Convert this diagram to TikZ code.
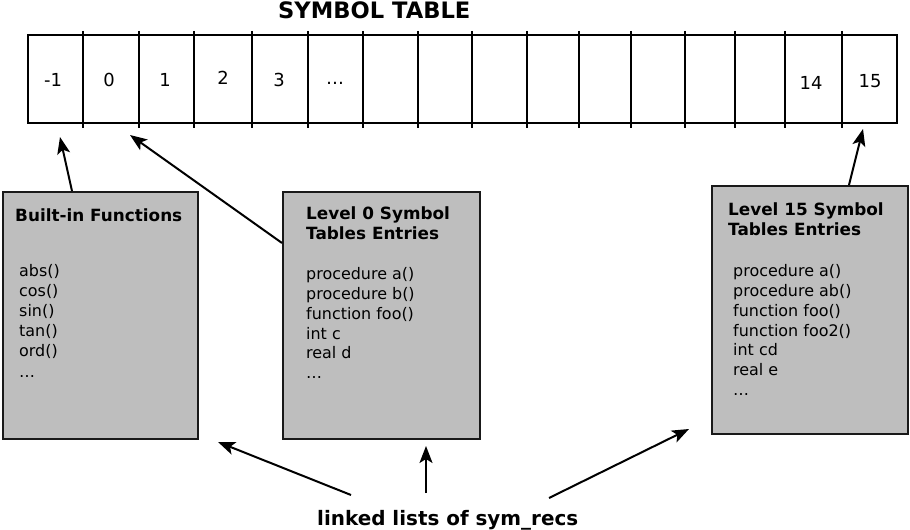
\documentclass[tikz,border=0pt]{standalone}
\usepackage{fontspec}
\setmainfont{DejaVu Sans}
\usetikzlibrary{arrows.meta,calc}
\definecolor{boxgray}{RGB}{190,190,190}
\begin{document}
\begin{tikzpicture}[x=1bp,y=-1bp,
  box/.style={draw=black!90, line width=2bp, fill=boxgray, inner sep=0pt, anchor=north west},
  body/.style={anchor=base west, inner sep=0pt, font=\fontsize{16}{20}\selectfont},
  head/.style={anchor=base west, inner sep=0pt, font=\bfseries\fontsize{16.9}{20}\selectfont},
  cell/.style={anchor=base, inner sep=0pt, font=\fontsize{18}{20}\selectfont},
  title/.style={anchor=base west, inner sep=0pt, font=\bfseries\fontsize{22.7}{26}\selectfont},
  arr/.style={-{Stealth[length=17bp,width=13bp,inset=4bp]}, line width=2bp},
  tbl/.style={line width=2bp}]
\useasboundingbox (0,0) rectangle (910,530);

% title
\node[title] (ttl) at (278,19) {SYMBOL TABLE};

% symbol table
\draw[tbl] (28,35) rectangle (897,123);
\foreach \xx in {83,139,194,252,308,363,418,472,527,579,631,685,735,785,842}
  \draw[tbl] (\xx,31) -- (\xx,128);
\node[cell] (cm1) at (53,87) {-1};
\node[cell] (c0)  at (109,87) {0};
\node[cell] (c1)  at (165,87) {1};
\node[cell] (c2)  at (223,85) {2};
\node[cell] (c3)  at (279,87) {3};
\node[cell] (cd)  at (335,85) {…};
\node[cell] (c14) at (811,90) {14};
\node[cell] (c15) at (870,88) {15};

% boxes
\node[box, minimum width=195bp, minimum height=247bp] (bi) at (2,191) {};
\node[box, minimum width=197bp, minimum height=247bp] (l0) at (282,191) {};
\node[box, minimum width=196bp, minimum height=248bp] (l15) at (711,185) {};

% built-in text
\node[head] (bih) at (15,222) {Built-in Functions};
\foreach \t [count=\i] in {abs(),cos(),sin(),tan(),ord(),…}
  \node[body] (bi\i) at (19,257+20*\i) {\t};

% level 0 text
\node[head] (l0h1) at (306,220) {Level 0 Symbol};
\node[head] (l0h2) at (306,240) {Tables Entries};
\foreach \t [count=\i] in {procedure a(),procedure b(),function foo(),int c,real d,…}
  \node[body] (lz\i) at (306,260+19.8*\i) {\t};

% level 15 text
\node[head] (l15h1) at (728,216) {Level 15 Symbol};
\node[head] (l15h2) at (728,236) {Tables Entries};
\foreach \t [count=\i] in {procedure a(),procedure ab(),function foo(),function foo2(),int cd,real e,…}
  \node[body] (lf\i) at (733,257+19.8*\i) {\t};

% bottom label
\node[anchor=base west, inner sep=0pt, font=\bfseries\fontsize{20}{24}\selectfont] (ll) at (317,525) {linked lists of sym\_recs};

% arrow end points
\coordinate (s1) at (72,191);   \coordinate (t1) at (60,137);
\coordinate (s2) at (282,243);  \coordinate (t2) at (130,135);
\coordinate (s3) at (849,185);  \coordinate (t3) at (863,129);
\coordinate (s4) at (351,495);  \coordinate (t4) at (218,442);
\coordinate (s5) at (426,493);  \coordinate (t5) at (426,446);
\coordinate (s6) at (549,498);  \coordinate (t6) at (689,429);

\draw[arr] (s1) -- (t1);
\draw[arr] (s2) -- (t2);
\draw[arr] (s3) -- (t3);
\draw[arr] (s4) -- (t4);
\draw[arr] (s5) -- (t5);
\draw[arr] (s6) -- (t6);
\end{tikzpicture}
\end{document}
